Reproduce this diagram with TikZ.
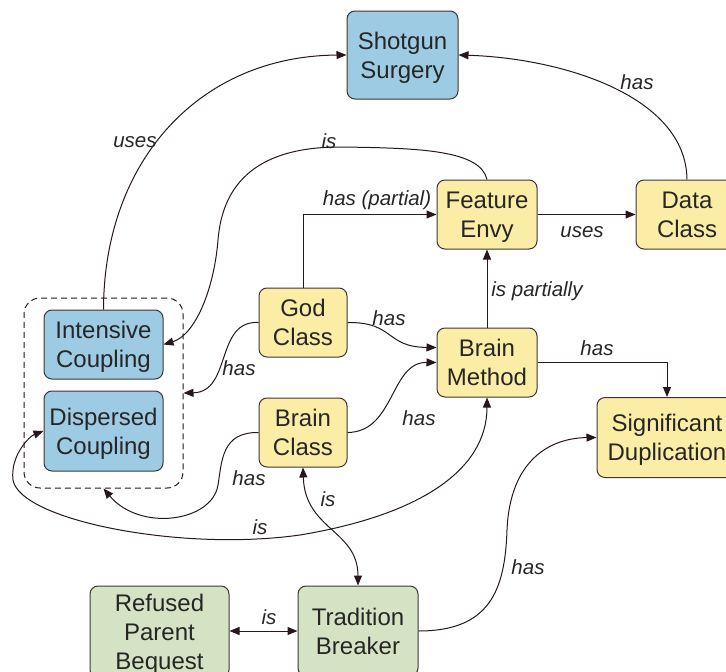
\documentclass[tikz,border=0pt]{standalone}
\usepackage{fontspec}
\setmainfont{Liberation Sans}
\usetikzlibrary{arrows.meta,calc}
\definecolor{bluef}{RGB}{158,203,228}
\definecolor{yellowf}{RGB}{251,237,166}
\definecolor{greenf}{RGB}{213,227,197}
\definecolor{bord}{RGB}{60,55,55}
\definecolor{edge}{RGB}{40,22,30}
\newcommand\boxlines[1]{\raisebox{-9pt}[0pt][0pt]{\begin{tabular}{@{}c@{}}#1\end{tabular}}}
\tikzset{
  box/.style={draw=bord, line width=1pt, rounded corners=8pt, align=center, inner sep=0pt,
    font=\fontsize{24}{29}\selectfont, text=black!85},
  bluebox/.style={box, fill=bluef},
  yellowbox/.style={box, fill=yellowf},
  greenbox/.style={box, fill=greenf},
  lab/.style={font=\fontsize{20.5}{24}\selectfont\itshape, text=black!85, inner sep=0pt},
  conn/.style={draw=edge, line width=1pt, -{Triangle[length=10pt,width=8pt]}},
  conn2/.style={draw=edge, line width=1pt, {Triangle[length=10pt,width=8pt]}-{Triangle[length=10pt,width=8pt]}},
}
\begin{document}
\begin{tikzpicture}[x=1pt,y=-1pt]
\useasboundingbox (0,0) rectangle (726,672);
\clip (0,0) rectangle (726,672);
% group
\node[draw=edge, dash pattern=on 6pt off 4pt, line width=1pt, rounded corners=16pt, minimum width=159pt, minimum height=190pt, inner sep=0pt] (grp) at (103.5,393) {};
% nodes
\node[bluebox, minimum width=111pt, minimum height=88pt] (ss) at (402.5,55) {\boxlines{Shotgun\\Surgery}};
\node[yellowbox, minimum width=100pt, minimum height=69pt] (fe) at (487,214.5) {\boxlines{Feature\\Envy}};
\node[yellowbox, minimum width=102pt, minimum height=69pt] (dcl) at (687,214.5) {\boxlines{Data\\Class}};
\node[yellowbox, minimum width=88pt, minimum height=69pt] (gc) at (303,322.5) {\boxlines{God\\Class}};
\node[yellowbox, minimum width=100pt, minimum height=69pt] (bm) at (487,362.5) {\boxlines{Brain\\Method}};
\node[yellowbox, minimum width=88pt, minimum height=69pt] (bc) at (303,432.5) {\boxlines{Brain\\Class}};
\node[bluebox, minimum width=119pt, minimum height=69pt] (ic) at (103.5,344.5) {\boxlines{Intensive\\Coupling}};
\node[bluebox, minimum width=119pt, minimum height=80pt] (dp) at (103.5,431) {\boxlines{Dispersed\\Coupling}};
\node[yellowbox, minimum width=140pt, minimum height=80pt] (sd) at (667,437.5) {\boxlines{Significant\\Duplication}};
\node[greenbox, minimum width=139pt, minimum height=92pt] (rpb) at (159.5,632) {\boxlines{Refused\\Parent\\Bequest}};
\node[greenbox, minimum width=120pt, minimum height=90pt] (tb) at (358,631) {\boxlines{Tradition\\Breaker}};
% connectors
\draw[conn] (ic.north) .. controls (104,160) and (200,56) .. (ss.west);
\draw[conn] (dcl.north) .. controls (686,95) and (560,58) .. (ss.east);
\draw[conn] (fe.north) .. controls (480,150) and (420,148) .. (340,147) .. controls (250,147) and (222,190) .. (218,240) .. controls (214,290) and (195,335) .. (ic.east);
\draw[conn] (gc.north) |- (fe.west);
\draw[conn] (fe.east) -- (dcl.west);
\draw[conn] (bm.north) -- (fe.south);
\draw[conn] (gc.east) .. controls (395,322) and (385,347) .. ([yshift=15pt]bm.west);
\draw[conn] (gc.west) .. controls (215,320) and (232,392) .. (grp.east);
\draw[conn] (bc.east) .. controls (395,432) and (390,362) .. (bm.west);
\draw[conn] (bc.west) .. controls (222,432) and (222,460) .. (218,485) .. controls (212,522) and (140,532) .. (grp.south);
\draw[conn2] (bm.south) .. controls (487,470) and (420,515) .. (300,535) .. controls (180,552) and (20,520) .. (13,480) .. controls (10,455) and (30,436) .. (dp.west);
\draw[conn2] (bc.south) .. controls (305,530) and (358,530) .. (tb.north);
\draw[conn2] (rpb.east |- tb.west) -- (tb.west);
\draw[conn] (tb.east) .. controls (490,631) and (505,590) .. (507,530) .. controls (510,460) and (550,438) .. (sd.west);
\draw[conn] (bm.east) -| (sd.north);
% labels
\node[lab] (l1) at (135,142) {uses};
\node[lab] (l2) at (329,141) {is};
\node[lab] (l3) at (377,200) {has (partial)};
\node[lab] (l4) at (637,82) {has};
\node[lab] (l5) at (582,232) {uses};
\node[lab] (l6) at (537,291) {is partially};
\node[lab] (l7) at (389,318) {has};
\node[lab] (l8) at (239,368) {has};
\node[lab] (l9) at (419,418) {has};
\node[lab] (l10) at (249,478) {has};
\node[lab] (l11) at (260,527) {is};
\node[lab] (l12) at (328,499) {is};
\node[lab] (l13) at (269,617) {is};
\node[lab] (l14) at (528,567) {has};
\node[lab] (l15) at (597,348) {has};
\end{tikzpicture}
\end{document}
